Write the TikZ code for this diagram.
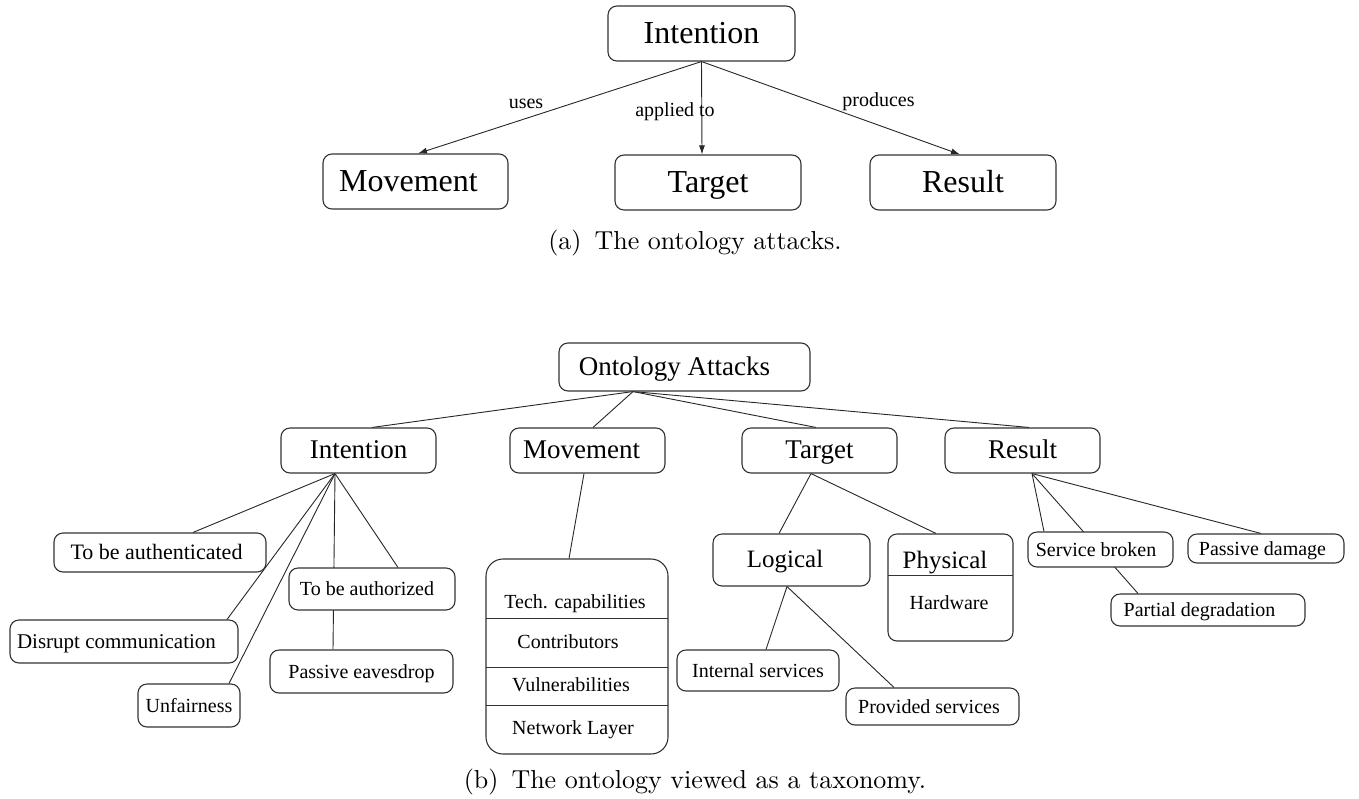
\documentclass[tikz,border=0pt]{standalone}
\usepackage{fontspec}
\newfontfamily\tms{Liberation Serif}
\newfontfamily\capfont{lmroman10-regular}[Extension=.otf]
\usetikzlibrary{arrows.meta,calc}
\pgfdeclarelayer{bg}
\pgfsetlayers{bg,main}
\newcommand{\sh}[1]{\hspace*{#1pt}}
\begin{document}
\begin{tikzpicture}[x=1pt,y=-1pt,
  box/.style={draw=black!80, line width=1.1pt, fill=white, rounded corners=9pt, inner sep=0pt},
  bigtxt/.style={font=\tms\fontsize{32}{36}\selectfont, text height=24pt, text depth=3.2pt},
  midtxt/.style={font=\tms\fontsize{27}{32}\selectfont, text height=19pt, text depth=3pt},
  lgtxt/.style={font=\tms\fontsize{25}{30}\selectfont, text height=18pt, text depth=3pt},
  smtxt/.style={font=\tms\fontsize{20}{24}\selectfont, text height=15pt, text depth=2pt},
  bx/.style n args={2}{minimum width=#1pt, minimum height=#2pt},
  conn/.style={draw=black!85, line width=0.9pt},
  arr/.style={conn, -{Latex[length=9pt,width=6pt]}},
  lbl/.style={font=\tms\fontsize{20}{24}\selectfont, inner sep=0pt, anchor=base},
  cmp/.style={font=\tms\fontsize{20}{24}\selectfont, inner sep=0pt, anchor=base},
  sepline/.style={draw=black!80, line width=1pt},
  captxt/.style={font=\capfont\fontsize{26}{30}\selectfont, inner sep=0pt, anchor=base},
]
\useasboundingbox (0,0) rectangle (1359,798);

% ---------------- (a) ----------------
\node[box, bigtxt, bx={187}{55}] (IntA) at (701.5,33.5) {Intention};
\node[box, bigtxt, bx={185}{55}] (MovA) at (415.5,181.5) {Movement\sh{14}};
\node[box, bigtxt, bx={186}{55}] (TarA) at (708,182.5) {Target};
\node[box, bigtxt, bx={186}{55}] (ResA) at (963,182.5) {Result};

\node[lbl] (luses) at (526,108) {uses};
\node[lbl] (lapp) at (675,116) {applied to};
\node[lbl] (lprod) at (878.5,106) {produces};

\begin{pgfonlayer}{bg}
\draw[arr] (IntA.south) -- ([xshift=2.5pt]MovA.north);
\draw[arr] (IntA.south) -- ([xshift=-6pt]TarA.north);
\draw[arr] (IntA.south) -- ([xshift=-3pt]ResA.north);
\end{pgfonlayer}

\node[captxt] (capA) at (695,249) {(a)\hspace{0.5em}The ontology attacks.};

% ---------------- (b) ----------------
\node[box, midtxt, bx={251}{48}] (Ont) at (684.5,367) {Ontology Attacks\sh{20}};

\node[box, midtxt, bx={155}{45}] (IntB) at (358.5,450.5) {Intention};
\node[box, midtxt, bx={155}{45}] (MovB) at (587.5,450.5) {Movement\sh{12}};
\node[box, midtxt, bx={155}{45}] (TarB) at (819.5,450.5) {Target};
\node[box, midtxt, bx={155}{45}] (ResB) at (1022.5,450.5) {Result};

% Intention children
\node[box, font=\tms\fontsize{22}{26}\selectfont, text height=16pt, text depth=2pt, bx={212}{39}] (TbAuth) at (160,552.5) {To be authenticated\sh{7}};
\node[box, font=\tms\fontsize{21}{25}\selectfont, text height=16pt, text depth=2pt, bx={228}{43}] (Disr) at (124,641.5) {Disrupt communication\sh{15}};
\node[box, smtxt, bx={102}{43}] (Unf) at (189,705.5) {Unfairness};
\node[box, smtxt, bx={166}{42}] (TbAuthz) at (372,589) {To be authorized\sh{10}};
\node[box, smtxt, bx={183}{43}] (PEav) at (361.5,671.5) {Passive eavesdrop};

% Movement detail
\node[box, rounded corners=17pt, bx={182}{195}] (MovD) at (577,656.5) {};
\draw[sepline] (486,618) -- (668,618);
\draw[sepline] (486,667) -- (668,667);
\draw[sepline] (486,705) -- (668,705);
\node[cmp] (mTech) at (575,608) {Tech. capabilities};
\node[cmp] (mContr) at (568,648) {Contributors};
\node[cmp] (mVuln) at (571,691) {Vulnerabilities};
\node[cmp] (mNet) at (573,734) {Network Layer};

% Target children
\node[box, lgtxt, bx={157}{52}] (Log) at (791.5,560) {Logical\sh{13}};
\node[box, bx={125}{107}] (Phys) at (950.5,587.5) {};
\draw[sepline] (888,575) -- (1013,575);
\node[font=\tms\fontsize{25}{30}\selectfont, inner sep=0pt, anchor=base] (tPhys) at (945,568) {Physical};
\node[cmp] (tHard) at (949,609) {Hardware};
\node[box, smtxt, bx={162}{41}] (IntS) at (758,670.5) {Internal services};
\node[box, smtxt, bx={173}{37}] (ProvS) at (932.5,706.5) {Provided services\sh{7}};

% Result children
\node[box, smtxt, bx={145}{35}] (SvcB) at (1100.5,549.5) {Service broken\sh{9}};
\node[box, smtxt, bx={156}{29}] (PDam) at (1266,548.5) {Passive damage\sh{7}};
\node[box, smtxt, bx={194}{32}] (PDeg) at (1208,610) {Partial degradation\sh{17}};

\begin{pgfonlayer}{bg}
\draw[conn] ([xshift=-51.5pt]Ont.south) -- ([xshift=13.5pt]IntB.north);
\draw[conn] ([xshift=-51.5pt]Ont.south) -- ([xshift=5.5pt]MovB.north);
\draw[conn] ([xshift=-51.5pt]Ont.south) -- ([xshift=-3.5pt]TarB.north);
\draw[conn] ([xshift=-51.5pt]Ont.south) -- ([xshift=6.5pt]ResB.north);

\draw[conn] ([xshift=-23.5pt]IntB.south) -- ([xshift=33pt]TbAuth.north);
\draw[conn] ([xshift=-23.5pt]IntB.south) -- ([xshift=103pt]Disr.north);
\draw[conn] ([xshift=-23.5pt]IntB.south) -- ([xshift=40pt]Unf.north);
\draw[conn] ([xshift=-23.5pt]IntB.south) -- ([xshift=26pt]TbAuthz.north);
\draw[conn] ([xshift=-23.5pt]IntB.south) -- ([xshift=-28.5pt]PEav.north);

\draw[conn] ([xshift=-3.5pt]MovB.south) -- ([xshift=-8pt]MovD.north);

\draw[conn] ([xshift=-8.5pt]TarB.south) -- ([xshift=-12.5pt]Log.north);
\draw[conn] ([xshift=-8.5pt]TarB.south) -- ([xshift=-14.5pt]Phys.north);
\draw[conn] ([xshift=-4.5pt]Log.south) -- ([xshift=8pt]IntS.north);
\draw[conn] ([xshift=-4.5pt]Log.south) -- ([xshift=-38.5pt]ProvS.north);

\draw[conn] ([xshift=9.5pt]ResB.south) -- ([xshift=-56.5pt]SvcB.north);
\draw[conn] ([xshift=9.5pt]ResB.south) -- ([xshift=-70pt]PDeg.north);
\draw[conn] ([xshift=9.5pt]ResB.south) -- ([xshift=-5pt]PDam.north);
\end{pgfonlayer}

\node[captxt] (capB) at (695,788) {(b)\hspace{0.5em}The ontology viewed as a taxonomy.};
\end{tikzpicture}
\end{document}
